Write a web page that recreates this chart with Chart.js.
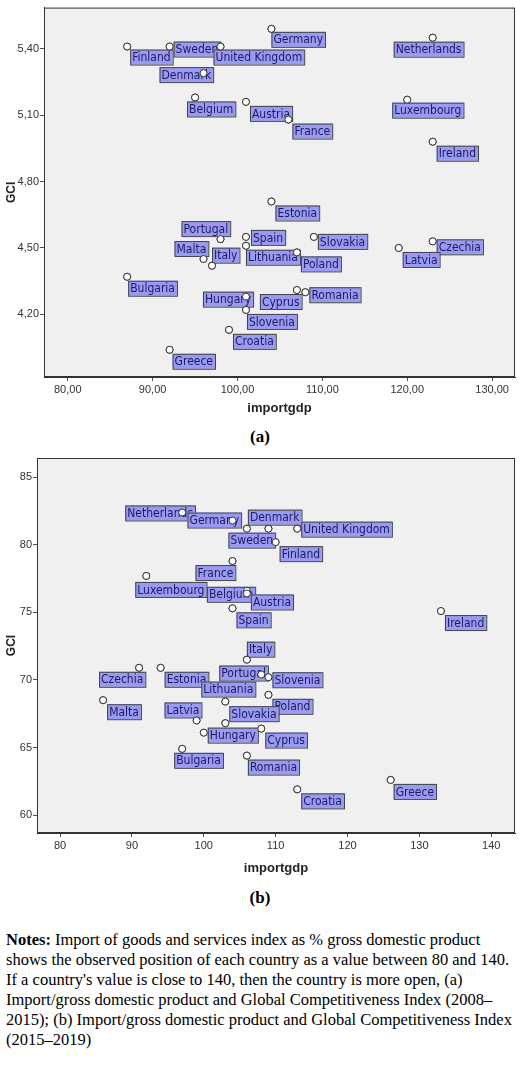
<!DOCTYPE html>
<html><head><meta charset="utf-8">
<script src="https://cdn.jsdelivr.net/npm/chart.js@4"></script>
<style>
body{margin:0;width:520px;height:1071px;background:#fff;position:relative;overflow:hidden}
canvas{position:absolute;left:0}
.cap{position:absolute;left:0;width:520px;text-align:center;font:bold 17px "Liberation Serif",serif}
#notes{position:absolute;left:6px;top:930px;width:512px;font:16.5px "Liberation Serif",serif;line-height:20px;color:#000}
</style></head><body>
<div style="position:absolute;top:0;left:0;width:520px;height:420px"><canvas id="ca"></canvas></div>
<div class="cap" style="top:427px">(a)</div>
<div style="position:absolute;top:440px;left:0;width:520px;height:440px"><canvas id="cb"></canvas></div>
<div class="cap" style="top:888px">(b)</div>
<div id="notes"><b>Notes:</b> Import of goods and services index as % gross domestic product shows the observed position of each country as a value between 80 and 140. If a country's value is close to 140, then the country is more open, (a) Import/gross domestic product and Global Competitiveness Index (2008–2015); (b) Import/gross domestic product and Global Competitiveness Index (2015–2019)</div>
<script>
// Chart (a) data: 2008–2015
const countriesA = ["Finland","Sweden","United Kingdom","Germany","Netherlands","Denmark","Belgium","Austria","France","Luxembourg","Ireland","Estonia","Portugal","Spain","Slovakia","Czechia","Lithuania","Latvia","Poland","Malta","Italy","Bulgaria","Cyprus","Romania","Hungary","Slovenia","Croatia","Greece"];
const importA = [87,92,98,104,123,96,95,101,106,120,123,104,98,101,109,123,101,119,107,96,97,87,107,108,101,101,99,92];
const gciA = [5.41,5.41,5.41,5.49,5.45,5.29,5.18,5.16,5.08,5.17,4.98,4.71,4.54,4.55,4.55,4.53,4.51,4.50,4.48,4.45,4.42,4.37,4.31,4.30,4.28,4.22,4.13,4.04];
const labelOffsetA = [[3,3],[4,-5],[-7,3],[0,3],[-39,4],[-44,-6],[-8,4],[4,4],[4,4],[-15,3],[4,4],[4,4],[-39,-18],[5,-7],[4,-3],[4,-2],[0,4],[4,4],[4,4],[-29,-18],[0,-18],[1,4],[-37,4],[4,-5],[-43,-5],[1,4],[4,4],[3,4]];
const xTicksA = [80,90,100,110,120,130];
const yTicksA = [4.2,4.5,4.8,5.1,5.4];

// Chart (b) data: 2015–2019
const countriesB = ["Netherlands","Germany","Denmark","Sweden","United Kingdom","Finland","France","Luxembourg","Belgium","Austria","Spain","Ireland","Italy","Czechia","Estonia","Portugal","Slovenia","Lithuania","Poland","Malta","Latvia","Slovakia","Hungary","Cyprus","Bulgaria","Romania","Greece","Croatia"];
const importB = [97,104,106,109,113,110,104,92,106,106,104,133,106,91,94,108,109,103,109,86,99,103,100,108,97,106,126,113];
const gciB = [82.4,81.8,81.2,81.2,81.2,80.2,78.8,77.7,76.6,76.4,75.3,75.1,71.5,70.9,70.9,70.4,70.2,68.4,68.9,68.5,67.0,66.8,66.1,66.4,64.9,64.4,62.6,61.9];
const labelOffsetB = [[-57,-7],[-45,-8],[1,-19],[-40,4],[4,-7],[4,4],[-37,4],[-11,6],[-40,-4],[4,1],[4,4],[4,4],[0,-18],[-40,4],[4,4],[-42,-9],[4,-5],[-24,-20],[4,4],[4,4],[-32,-18],[4,-17],[4,-5],[4,4],[-8,4],[1,4],[3,4],[4,4]];
const xTicksB = [80,90,100,110,120,130,140];
const yTicksB = [60,65,70,75,80,85];

const labelPlugin = {
  id:'boxlabels',
  beforeDraw(chart){
    const a=chart.chartArea, c=chart.ctx;
    c.save(); c.fillStyle='#f0f0f0'; c.fillRect(a.left,a.top,a.width,a.height); c.restore();
  },
  afterDatasetsDraw(chart){
    const c=chart.ctx, meta=chart.getDatasetMeta(0), o=chart.options.plugins.boxlabels;
    c.save(); c.font='12px "DejaVu Sans Condensed", Arial, sans-serif'; c.textBaseline='middle';
    meta.data.forEach((p,i)=>{
      const t=o.names[i], off=o.offsets[i];
      const w=c.measureText(t).width+4, h=15;
      const x=p.x+off[0], y=p.y+off[1];
      c.fillStyle='#9a9af5'; c.fillRect(x,y,w,h);
      c.strokeStyle='#444'; c.lineWidth=1; c.strokeRect(x+0.5,y+0.5,w,h);
      c.fillStyle='#1c1c5c'; c.fillText(t,x+2,y+h/2+1);
    });
    // redraw points on top
    meta.data.forEach(p=>{c.beginPath();c.arc(p.x,p.y,3.5,0,Math.PI*2);c.fillStyle='#fff';c.fill();c.strokeStyle='#333';c.lineWidth=1;c.stroke();});
    const a=chart.chartArea; c.strokeStyle='#333'; c.strokeRect(a.left+0.5,a.top+0.5,a.width-1,a.height-1);
    c.restore();
  }
};

function make(id,xs,ys,names,offs,xt,yt,xr,yr,yW,xH,padTop,fmtX,fmtY){
  new Chart(document.getElementById(id),{
    type:'scatter',
    data:{datasets:[{data:xs.map((x,i)=>({x,y:ys[i]})),pointRadius:3.5,pointBackgroundColor:'#fff',pointBorderColor:'#333',pointBorderWidth:1}]},
    options:{responsive:true,maintainAspectRatio:false,animation:false,
      layout:{padding:{top:padTop,right:2,left:0,bottom:0}},
      plugins:{legend:{display:false},tooltip:{enabled:false},boxlabels:{names,offsets:offs}},
      scales:{
        x:{min:xr[0],max:xr[1],afterBuildTicks:s=>{s.ticks=xt.map(v=>({value:v}));},afterFit:s=>{s.height=xH;},
          grid:{drawOnChartArea:false,drawTicks:true,tickLength:4,color:'#555'},border:{color:'#333'},
          ticks:{callback:fmtX,color:'#333',font:{size:11,family:'Arial'},maxRotation:0,padding:2},
          title:{display:true,text:'importgdp',color:'#222',font:{size:13,weight:'bold',family:'Arial'},padding:{top:4}}},
        y:{min:yr[0],max:yr[1],afterBuildTicks:s=>{s.ticks=yt.map(v=>({value:v}));},afterFit:s=>{s.width=yW;},
          grid:{drawOnChartArea:false,drawTicks:true,tickLength:4,color:'#555'},border:{color:'#333'},
          ticks:{callback:fmtY,color:'#333',font:{size:11,family:'Arial'},padding:1},
          title:{display:true,text:'GCI',color:'#222',font:{size:12,weight:'bold',family:'Arial'},padding:{bottom:2}}}
      }},
    plugins:[labelPlugin]
  });
}
make('ca',importA,gciA,countriesA,labelOffsetA,xTicksA,yTicksA,[77.2,132.7],[3.917,5.586],44,43,0,
  v=>v.toFixed(2).replace('.',','),v=>v.toFixed(2).replace('.',','));
make('cb',importB,gciB,countriesB,labelOffsetB,xTicksB,yTicksB,[76.8,143.3],[58.67,86.43],37,47,18,
  v=>String(v),v=>String(v));
</script></body></html>
